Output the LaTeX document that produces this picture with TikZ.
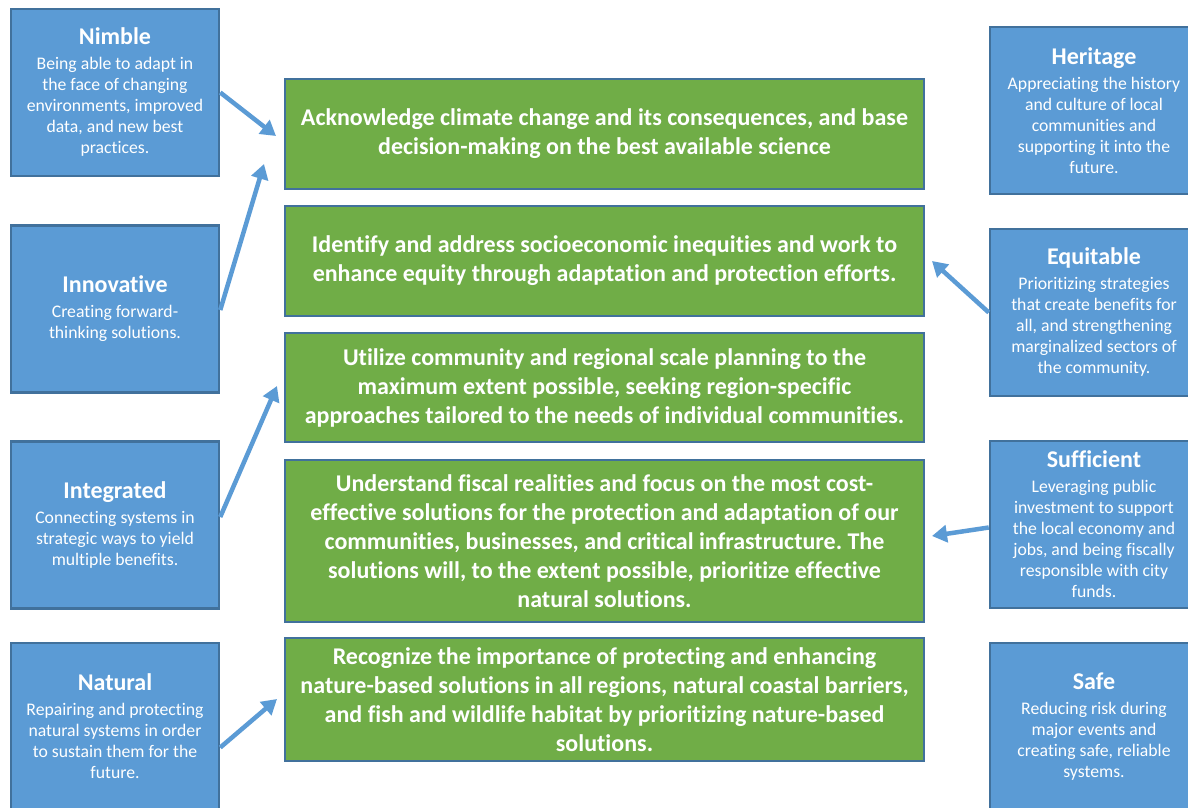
\documentclass[tikz,border=0pt]{standalone}
\usepackage{fontspec}
\setmainfont{Carlito}[Ligatures={NoCommon}]
\usetikzlibrary{arrows.meta,calc}
\frenchspacing
\definecolor{boxblue}{HTML}{5B9BD5}
\definecolor{boxgreen}{HTML}{70AD47}
\definecolor{edgeblue}{HTML}{41719C}
\newcommand{\bxtitle}[1]{{\fontsize{24}{24}\selectfont\bfseries #1}\\[4pt]}
\tikzset{
  bluebox/.style={draw=edgeblue, line width=2.5pt, fill=boxblue, text=white,
    minimum width=208pt, minimum height=167pt, inner sep=0pt, align=center,
    font=\fontsize{17.7}{21}\selectfont},
  greenbox/.style={draw=edgeblue, line width=2.5pt, fill=boxgreen, text=white,
    minimum width=639pt, inner sep=0pt, align=center,
    font=\fontsize{24}{29}\selectfont\bfseries},
  conn/.style={draw=boxblue, line width=4.5pt,
    -{Triangle[length=15pt,width=17pt]}, shorten <=0pt}
}
\begin{document}
\begin{tikzpicture}[x=1pt,y=-1pt]
\useasboundingbox (0,0) rectangle (1188,808);
\clip (0,0) rectangle (1188,808);
\fill[white] (0,0) rectangle (1188,808);
% left blue boxes
\node[bluebox] (nimble) at (115,92.5) {\bxtitle{Nimble}Being able to adapt in\\the face of changing\\environments, improved\\data, and new best\\practices.};
\node[bluebox] (innov) at (115,309) {\bxtitle{Innovative}Creating forward-\\thinking solutions.};
\node[bluebox] (integ) at (115,525) {\bxtitle{Integrated}Connecting systems in\\strategic ways to yield\\multiple benefits.};
\node[bluebox] (natural) at (115,726.5) {\bxtitle{Natural}Repairing and protecting\\natural systems in order\\to sustain them for the\\future.};
% right blue boxes
\node[bluebox] (herit) at (1094,110.5) {\bxtitle{Heritage}Appreciating the history\\and culture of local\\communities and\\supporting it into the\\future.};
\node[bluebox] (equit) at (1094,312.5) {\bxtitle{Equitable}Prioritizing strategies\\that create benefits for\\all, and strengthening\\marginalized sectors of\\the community.};
\node[bluebox] (suff) at (1094,524.5) {\bxtitle{Sufficient}Leveraging public\\investment to support\\the local economy and\\jobs, and being fiscally\\responsible with city\\funds.};
\node[bluebox] (safe) at (1094,726.5) {\bxtitle{Safe}Reducing risk during\\major events and\\creating safe, reliable\\systems.};
% green boxes
\node[greenbox, minimum height=110pt] (g1) at (604.5,134) {Acknowledge climate change and its consequences, and base\\decision-making on the best available science};
\node[greenbox, minimum height=110pt] (g2) at (604.5,261) {Identify and address socioeconomic inequities and work to\\enhance equity through adaptation and protection efforts.};
\node[greenbox, minimum height=109pt] (g3) at (604.5,387.5) {Utilize community and regional scale planning to the\\maximum extent possible, seeking region-specific\\approaches tailored to the needs of individual communities.};
\node[greenbox, minimum height=162pt] (g4) at (604.5,541) {Understand fiscal realities and focus on the most cost-\\effective solutions for the protection and adaptation of our\\communities, businesses, and critical infrastructure. The\\solutions will, to the extent possible, prioritize effective\\natural solutions.};
\node[greenbox, minimum height=123pt] (g5) at (604.5,699.5) {Recognize the importance of protecting and enhancing\\nature-based solutions in all regions, natural coastal barriers,\\and fish and wildlife habitat by prioritizing nature-based\\solutions.};
% arrow tips
\coordinate (t1) at (276,136);
\coordinate (t2) at (264,164);
\coordinate (t3) at (277,386);
\coordinate (t4) at (932,261);
\coordinate (t5) at (932,536);
\coordinate (t6) at (277,699);
\draw[conn] (nimble.east) -- (t1);
\draw[conn] ($(innov.east)+(0,1)$) -- (t2);
\draw[conn] ($(integ.east)+(0,-8)$) -- (t3);
\draw[conn] ($(natural.east)+(0,21)$) -- (t6);
\draw[conn] (equit.west) -- (t4);
\draw[conn] ($(suff.west)+(0,3)$) -- (t5);
\end{tikzpicture}
\end{document}
